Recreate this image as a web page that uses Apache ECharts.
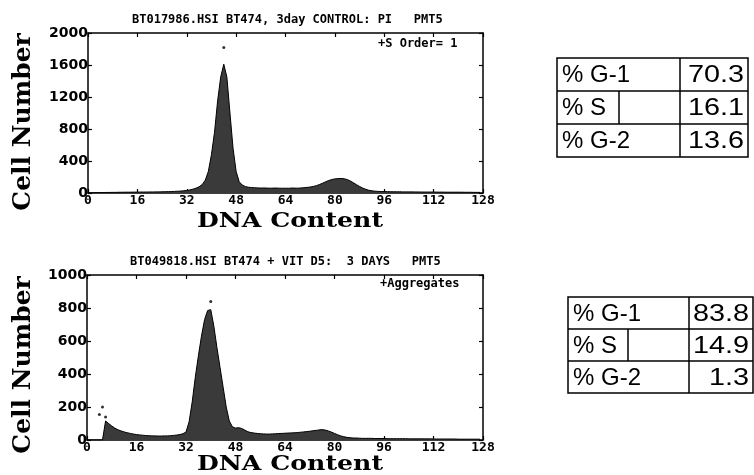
<!DOCTYPE html>
<html><head><meta charset="utf-8">
<script src="https://cdn.jsdelivr.net/npm/echarts@6/dist/echarts.min.js"></script>
<style>html,body{margin:0;padding:0;background:#fff}#c{width:754px;height:475px}</style>
</head><body><div id="c"></div>
<script>
const topTitle = 'BT017986.HSI BT474, 3day CONTROL: PI   PMT5';
const botTitle = 'BT049818.HSI BT474 + VIT D5:  3 DAYS   PMT5';
const topNote = '+S Order= 1';
const botNote = '+Aggregates';
const yName = 'Cell Number';
const xName = 'DNA Content';
// counts per channel 0..127
const topCounts = [
0,2,4,5,6,6,7,7, 8,8,9,9,10,10,10,11, 11,12,12,12,13,13,14,14, 15,16,17,18,20,22,24,28,
32,38,48,60,78,105,160,270, 480,760,1150,1450,1610,1450,1000,560, 270,140,100,80,72,68,66,64, 62,63,61,60,61,62,60,59,
60,59,62,61,60,63,66,70, 75,82,92,106,122,140,156,168, 176,180,182,178,168,150,128,104, 82,62,46,34,27,23,20,18,
18,17,16,16,15,15,14,14, 14,14,13,13,12,12,12,12, 12,11,11,11,10,10,10,10, 10,10,9,9,9,8,8,8
];
const topOutliers = [[44,1820]];
const botCounts = [
0,0,0,0,0,0,115,100, 85,72,62,55,49,44,40,36, 33,31,29,27,26,25,25,24, 24,25,25,26,28,30,33,38,
48,110,230,380,510,630,730,785, 790,690,560,440,320,200,115,80, 72,75,70,60,50,45,42,40, 38,37,36,36,37,38,39,40,
41,42,43,44,45,47,49,51, 53,56,58,61,63,60,55,48, 40,32,25,20,16,14,12,12, 11,10,10,10,10,9,9,9,
9,8,8,8,8,8,8,8, 7,7,7,7,7,7,7,7, 6,6,6,6,6,6,6,6, 5,5,5,5,5,5,5,5
];
const botOutliers = [[4,155],[5,200],[6,140],[40,840]];
const tableLabels = ['% G-1','% S','% G-2'];
const topTableValues = ['70.3','16.1','13.6'];
const botTableValues = ['83.8','14.9','1.3'];
const xMin = 0, xMax = 128, xStep = 16;
const topYMax = 2000, topYStep = 400;
const botYMax = 1000, botYStep = 200;

const grids = [
  {left: 88, top: 33, width: 395, height: 160},
  {left: 87, top: 275, width: 396, height: 165}
];
const axLine = {show: true, onZero: false, lineStyle: {color: '#000', width: 1.5}};
const tick = {show:true, inside:true, length:4, lineStyle:{color:'#000', width:1.2}};
function xAxes(g) {
  return [
    {type:'value', gridIndex:g, min:xMin, max:xMax, interval:xStep, position:'bottom',
     axisLine: axLine, axisTick: tick, splitLine:{show:false},
     axisLabel:{color:'#000', fontFamily:'DejaVu Sans Mono', fontWeight:'bold', fontSize:13, margin:1}},
    {type:'value', gridIndex:g, min:xMin, max:xMax, interval:xStep, position:'top',
     axisLine: axLine, axisTick: tick, splitLine:{show:false}, axisLabel:{show:false}}
  ];
}
function yAxes(g, max, step) {
  return [
    {type:'value', gridIndex:g, min:0, max:max, interval:step, position:'left',
     axisLine: axLine, axisTick: tick, splitLine:{show:false},
     axisLabel:{color:'#000', fontFamily:'DejaVu Sans', fontWeight:'bold', fontSize:14, margin:0,
       formatter: v => String(v)}},
    {type:'value', gridIndex:g, min:0, max:max, interval:step, position:'right',
     axisLine: axLine, axisTick: tick, splitLine:{show:false}, axisLabel:{show:false}}
  ];
}
function histSeries(counts, xi, yi) {
  return {type:'line', xAxisIndex:xi, yAxisIndex:yi, data: counts.map((v,i)=>[i,v]),
    symbol:'none', silent:true, lineStyle:{color:'#000', width:1},
    areaStyle:{color:'#3a3a3a', opacity:1}};
}
function dotSeries(pts, xi, yi) {
  return {type:'scatter', xAxisIndex:xi, yAxisIndex:yi, data: pts, symbolSize:3,
    itemStyle:{color:'#000'}, silent:true};
}
function tableGraphic(x, y, w, rowH, colX, sX, labels, values) {
  const els = [];
  const h = rowH*3;
  els.push({type:'rect', shape:{x:x, y:y, width:w, height:h}, style:{fill:'none', stroke:'#000', lineWidth:1.5}});
  for (let r=1;r<3;r++) els.push({type:'line', shape:{x1:x, y1:y+r*rowH, x2:x+w, y2:y+r*rowH}, style:{stroke:'#000', lineWidth:1.5}});
  els.push({type:'line', shape:{x1:colX, y1:y, x2:colX, y2:y+h}, style:{stroke:'#000', lineWidth:1.5}});
  els.push({type:'line', shape:{x1:sX, y1:y+rowH, x2:sX, y2:y+2*rowH}, style:{stroke:'#000', lineWidth:1.5}});
  labels.forEach((t,r)=>{
    els.push({type:'text', x:x+5, y:y+r*rowH+rowH/2+1, style:{text:t, fill:'#000', font:'24px "Liberation Sans"', textAlign:'left', textVerticalAlign:'middle'}});
    els.push({type:'text', x:x+w-4, y:y+r*rowH+rowH/2+1, scaleX:1.2, style:{text:values[r], fill:'#000', font:'24px "Liberation Sans"', textAlign:'right', textVerticalAlign:'middle'}});
  });
  return els;
}
const monoFont = 'bold 12px "DejaVu Sans Mono"';
const serifY = 'bold 25px "DejaVu Serif"';
const serifX = 'bold 20px "DejaVu Serif"';
const graphics = [
  {type:'text', x:132, y:20, style:{text:topTitle, fill:'#000', font:monoFont, textVerticalAlign:'middle'}},
  {type:'text', x:130, y:262, style:{text:botTitle, fill:'#000', font:monoFont, textVerticalAlign:'middle'}},
  {type:'text', x:378, y:44, style:{text:topNote, fill:'#000', font:monoFont, textVerticalAlign:'middle'}},
  {type:'text', x:380, y:284, style:{text:botNote, fill:'#000', font:monoFont, textVerticalAlign:'middle'}},
  {type:'text', x:23, y:122, rotation:Math.PI/2, style:{text:yName, fill:'#000', font:serifY, textAlign:'center', textVerticalAlign:'middle'}},
  {type:'text', x:23, y:365, rotation:Math.PI/2, style:{text:yName, fill:'#000', font:serifY, textAlign:'center', textVerticalAlign:'middle'}},
  {type:'text', x:290, y:222, scaleX:1.26, style:{text:xName, fill:'#000', font:serifX, textAlign:'center', textVerticalAlign:'middle'}},
  {type:'text', x:290, y:465, scaleX:1.26, style:{text:xName, fill:'#000', font:serifX, textAlign:'center', textVerticalAlign:'middle'}}
].concat(tableGraphic(557, 58, 191, 33, 680, 619, tableLabels, topTableValues))
 .concat(tableGraphic(568, 297, 185, 32, 689, 628, tableLabels, botTableValues));

const chart = echarts.init(document.getElementById('c'), null, {renderer:'canvas'});
chart.setOption({
  animation:false,
  backgroundColor:'#fff',
  grid: grids,
  xAxis: xAxes(0).concat(xAxes(1)),
  yAxis: yAxes(0, topYMax, topYStep).concat(yAxes(1, botYMax, botYStep)),
  series: [
    histSeries(topCounts, 0, 0),
    dotSeries(topOutliers, 0, 0),
    histSeries(botCounts, 2, 2),
    dotSeries(botOutliers, 2, 2)
  ],
  graphic: graphics
});
</script></body></html>
